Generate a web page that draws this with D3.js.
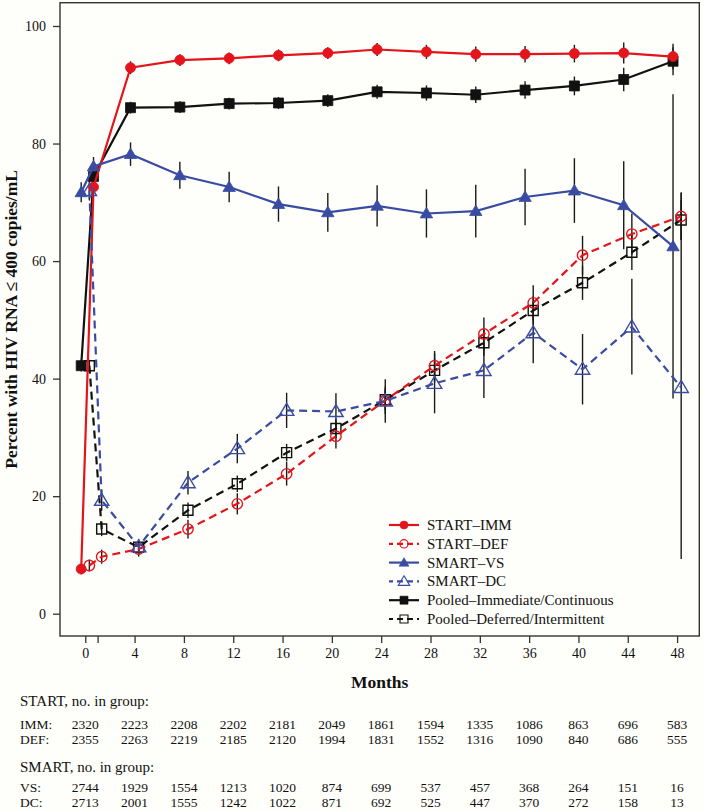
<!DOCTYPE html>
<html>
<head>
<meta charset="utf-8">
<script src="https://cdn.jsdelivr.net/npm/d3@7"></script>
<style>
  html, body { margin: 0; padding: 0; background: #fefefa; }
  svg { display: block; }
  text { font-family: "Liberation Serif", "DejaVu Serif", serif; fill: #111; }
</style>
</head>
<body>
<svg id="chart" width="704" height="811"></svg>
<script>
// ---------- DATA ----------
const months = [0, 1, 4, 8, 12, 16, 20, 24, 28, 32, 36, 40, 44, 48];

const startImm    = [7.6, 72.6, 92.9, 94.2, 94.5, 95.0, 95.4, 96.0, 95.6, 95.2, 95.2, 95.3, 95.4, 94.8];
const startImmErr = [0.9, 1.2, 1.1, 1.0, 1.0, 1.0, 1.0, 1.1, 1.2, 1.3, 1.4, 1.5, 1.8, 2.2];

const startDef    = [8.2, 9.7, 11.0, 14.4, 18.7, 23.8, 30.2, 36.3, 42.2, 47.6, 52.9, 61.0, 64.6, 67.6];
const startDefErr = [1.0, 1.2, 1.3, 1.6, 1.8, 2.0, 2.1, 2.3, 2.5, 2.8, 3.0, 3.3, 3.5, 4.0];

const smartVs     = [71.7, 76.1, 78.2, 74.6, 72.6, 69.7, 68.3, 69.4, 68.1, 68.5, 70.9, 72.0, 69.5, 62.5];
const smartVsErr  = [1.7, 1.6, 2.0, 2.3, 2.6, 3.0, 3.3, 3.5, 4.1, 4.5, 4.8, 5.5, 7.5, 25.9];

const smartDc      = [72.0, 19.3, 11.4, 22.3, 28.1, 34.6, 34.4, 36.2, 39.2, 41.4, 47.8, 41.6, 48.8, 38.5];
const smartDcErrLo = [1.7, 1.8, 1.3, 2.0, 2.5, 3.0, 3.1, 3.7, 5.1, 4.7, 5.2, 6.0, 8.1, 29.2];
const smartDcErrHi = [1.7, 1.8, 1.3, 2.0, 2.5, 3.0, 3.1, 3.7, 5.1, 4.8, 5.2, 6.0, 8.2, 33.2];

const pooledImm    = [42.2, 74.4, 86.1, 86.2, 86.8, 86.9, 87.3, 88.8, 88.6, 88.3, 89.1, 89.8, 90.9, 94.0];
const pooledImmErr = [1.0, 1.0, 1.0, 1.0, 1.0, 1.0, 1.1, 1.2, 1.3, 1.4, 1.5, 1.6, 2.0, 2.4];

const pooledDef    = [42.2, 14.4, 11.3, 17.6, 22.1, 27.4, 31.5, 36.4, 41.4, 46.1, 51.6, 56.3, 61.5, 67.0];
const pooledDefErr = [1.0, 1.2, 1.0, 1.3, 1.4, 1.5, 1.6, 1.8, 2.0, 2.2, 2.4, 2.9, 3.0, 3.4];

const xTickValues = [0, 1, 4, 8, 12, 16, 20, 24, 28, 32, 36, 40, 44, 48];
const xTickLabels = ["0", "", "4", "8", "12", "16", "20", "24", "28", "32", "36", "40", "44", "48"];
const yTickValues = [0, 20, 40, 60, 80, 100];

const tableMonths = [0, 4, 8, 12, 16, 20, 24, 28, 32, 36, 40, 44, 48];
const startImmN = [2320, 2223, 2208, 2202, 2181, 2049, 1861, 1594, 1335, 1086, 863, 696, 583];
const startDefN = [2355, 2263, 2219, 2185, 2120, 1994, 1831, 1552, 1316, 1090, 840, 686, 555];
const smartVsN  = [2744, 1929, 1554, 1213, 1020, 874, 699, 537, 457, 368, 264, 151, 16];
const smartDcN  = [2713, 2001, 1555, 1242, 1022, 871, 692, 525, 447, 370, 272, 158, 13];

const legendLabels = ["START–IMM", "START–DEF", "SMART–VS", "SMART–DC",
                      "Pooled–Immediate/Continuous", "Pooled–Deferred/Intermittent"];

// ---------- STYLE / LAYOUT ----------
const RED = "#e3141c", BLUE = "#3a4ca2", BLACK = "#111111";
const svg = d3.select("#chart");
const frame = {left: 60, top: 2.7, right: 699.3, bottom: 636};
const x = d3.scaleLinear().domain([-2.05, 49.8]).range([frame.left, frame.right]);
const y = d3.scaleLinear().domain([0, 100]).range([613.7, 26]);

const mk = (vals, lo, hi) => vals.map((v, i) => ({m: months[i], v, lo: v - lo[i], hi: v + hi[i]}));

const series = {
  startImm:  {pts: mk(startImm, startImmErr, startImmErr), color: RED, dash: null, shape: "circle", filled: true, off: -0.33},
  startDef:  {pts: mk(startDef, startDefErr, startDefErr), color: RED, dash: "8,5", shape: "circle", filled: false, off: 0.33},
  smartVs:   {pts: mk(smartVs, smartVsErr, smartVsErr), color: BLUE, dash: null, shape: "triangle", filled: true, off: -0.33},
  smartDc:   {pts: mk(smartDc, smartDcErrLo, smartDcErrHi), color: BLUE, dash: "8,5", shape: "triangle", filled: false, off: 0.33},
  pooledImm: {pts: mk(pooledImm, pooledImmErr, pooledImmErr), color: BLACK, dash: null, shape: "square", filled: true, off: -0.33},
  pooledDef: {pts: mk(pooledDef, pooledDefErr, pooledDefErr), color: BLACK, dash: "8,5", shape: "square", filled: false, off: 0.33}
};
const drawOrder = ["pooledImm", "pooledDef", "startImm", "startDef", "smartVs", "smartDc"];
const legendOrder = ["startImm", "startDef", "smartVs", "smartDc", "pooledImm", "pooledDef"];

function markerPath(shape, filled) {
  if (shape === "circle") {
    const r = filled ? 5 : 5.2;
    return `M${-r},0A${r},${r} 0 1,0 ${r},0A${r},${r} 0 1,0 ${-r},0Z`;
  }
  if (shape === "square") {
    const h = 5;
    return `M${-h},${-h}H${h}V${h}H${-h}Z`;
  }
  const w = filled ? 6.2 : 7.2, th = filled ? 10.5 : 12;
  return `M0,${-th * 0.58}L${w},${th * 0.42}L${-w},${th * 0.42}Z`;
}

function drawMarker(g, s, cx, cy, scale) {
  g.append("path")
    .attr("d", markerPath(s.shape, s.filled))
    .attr("transform", `translate(${cx},${cy})` + (scale ? ` scale(${scale})` : ""))
    .attr("fill", s.filled ? s.color : "none")
    .attr("stroke", s.color)
    .attr("stroke-width", s.filled ? 0.8 : 1.4);
}

// frame
svg.append("rect")
  .attr("x", frame.left).attr("y", frame.top)
  .attr("width", frame.right - frame.left).attr("height", frame.bottom - frame.top)
  .attr("fill", "none").attr("stroke", "#333").attr("stroke-width", 1.4);

// axes
const xAxis = svg.append("g").attr("transform", `translate(0,${frame.bottom})`)
  .call(d3.axisBottom(x).tickValues(xTickValues).tickSize(7).tickPadding(5)
    .tickFormat((d, i) => xTickLabels[i]));
xAxis.select(".domain").remove();
xAxis.selectAll("line").attr("stroke", "#333").attr("stroke-width", 1.3);
xAxis.selectAll("text").attr("font-size", 14).attr("fill", "#111")
  .style("font-family", '"Liberation Serif", "DejaVu Serif", serif');

const yAxis = svg.append("g").attr("transform", `translate(${frame.left},0)`)
  .call(d3.axisLeft(y).tickValues(yTickValues).tickSize(7).tickPadding(7));
yAxis.select(".domain").remove();
yAxis.selectAll("line").attr("stroke", "#333").attr("stroke-width", 1.3);
yAxis.selectAll("text").attr("font-size", 14).attr("fill", "#111")
  .style("font-family", '"Liberation Serif", "DejaVu Serif", serif');

// axis titles
svg.append("text")
  .attr("transform", `translate(17,${(frame.top + frame.bottom) / 2}) rotate(-90)`)
  .attr("text-anchor", "middle").attr("font-size", 17.5).attr("font-weight", "bold")
  .text("Percent with HIV RNA ≤ 400 copies/mL");
svg.append("text")
  .attr("x", (frame.left + frame.right) / 2).attr("y", 688)
  .attr("text-anchor", "middle").attr("font-size", 17.5).attr("font-weight", "bold")
  .text("Months");

// error bars
const gBars = svg.append("g");
drawOrder.forEach(k => {
  const s = series[k];
  gBars.selectAll(null).data(s.pts).enter().append("line")
    .attr("x1", d => x(d.m + s.off)).attr("x2", d => x(d.m + s.off))
    .attr("y1", d => y(d.lo)).attr("y2", d => y(d.hi))
    .attr("stroke", "#1a1a1a").attr("stroke-width", 1.4);
});

// lines and markers
const line = d3.line();
drawOrder.forEach(k => {
  const s = series[k];
  const g = svg.append("g");
  g.append("path")
    .attr("d", line(s.pts.map(d => [x(d.m + s.off), y(d.v)])))
    .attr("fill", "none").attr("stroke", s.color).attr("stroke-width", 2.2)
    .attr("stroke-dasharray", s.dash);
  s.pts.forEach(d => drawMarker(g, s, x(d.m + s.off), y(d.v)));
});

// legend
const lg = svg.append("g");
legendOrder.forEach((k, i) => {
  const s = series[k];
  const cy = 525 + i * 18.8;
  lg.append("line").attr("x1", 389).attr("x2", 419).attr("y1", cy).attr("y2", cy)
    .attr("stroke", s.color).attr("stroke-width", 2.2)
    .attr("stroke-dasharray", s.dash ? "6,4" : null)
    .attr("stroke-dashoffset", s.dash ? 2 : null);
  drawMarker(lg, s, 404, cy, 0.8);
  lg.append("text").attr("x", 427).attr("y", cy + 5).attr("font-size", 15)
    .text(legendLabels[i]);
});

// table
const tbl = svg.append("g").attr("font-size", 13.5);
function row(label, nums, baseline, size) {
  tbl.append("text").attr("x", 20).attr("y", baseline)
    .attr("font-size", size || null).text(label);
  if (!nums) return;
  tbl.selectAll(null).data(nums).enter().append("text")
    .attr("x", (d, i) => x(tableMonths[i])).attr("y", baseline)
    .attr("text-anchor", "middle").text(d => d);
}
row("START, no. in group:", null, 706, 15);
row("IMM:", startImmN, 728.5);
row("DEF:", startDefN, 743.5);
row("SMART, no. in group:", null, 772, 15);
row("VS:", smartVsN, 792);
row("DC:", smartDcN, 807);
</script>
</body>
</html>
